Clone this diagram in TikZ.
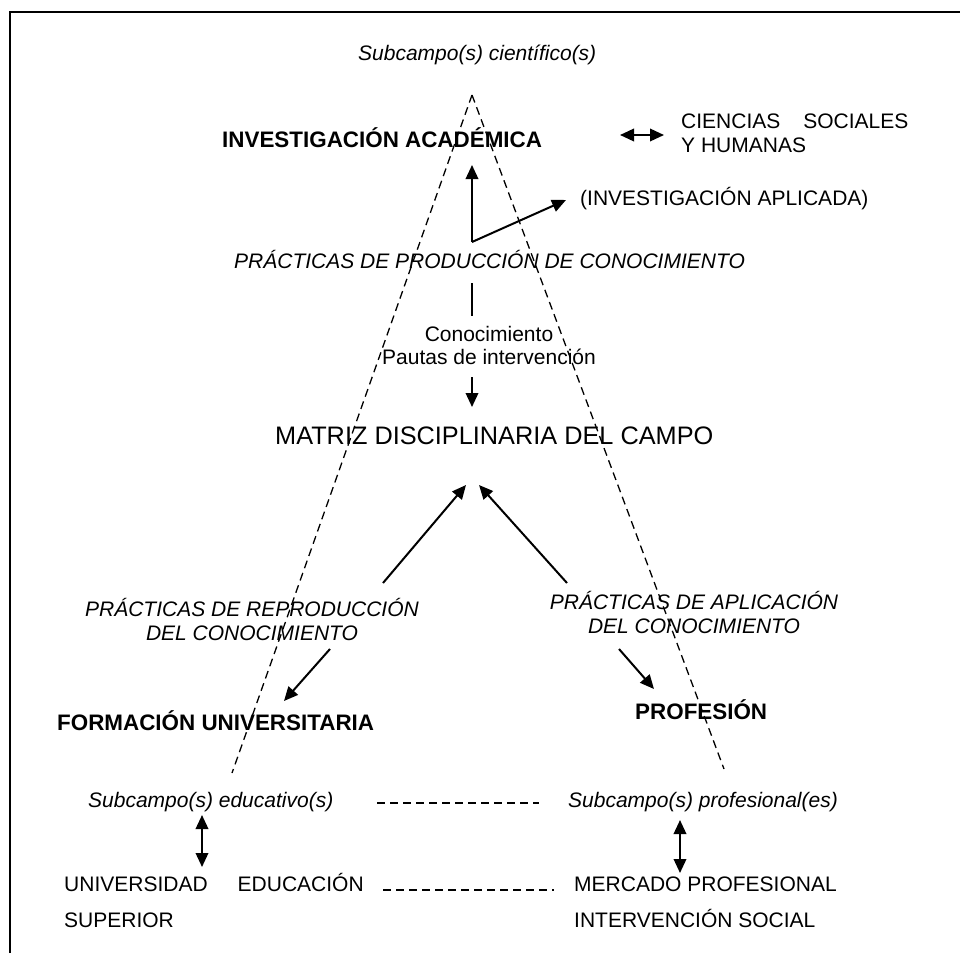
\documentclass[tikz,border=0pt]{standalone}
\usepackage{fontspec}
\setmainfont{Liberation Sans}
\usetikzlibrary{arrows.meta}
\tikzset{
  txt/.style={inner sep=0pt, font=\fontsize{21}{24}\selectfont},
  itxt/.style={inner sep=0pt, font=\fontsize{21}{24}\selectfont\itshape},
  btxt/.style={inner sep=0pt, font=\fontsize{22.4}{26}\selectfont\bfseries},
  big/.style={inner sep=0pt, font=\fontsize{25.3}{28}\selectfont},
  arr/.style={line width=2pt, -{Triangle[length=14pt,width=12.5pt]}},
  darr/.style={line width=2pt, {Triangle[length=14pt,width=12.5pt]}-{Triangle[length=14pt,width=12.5pt]}},
  plain/.style={line width=2pt},
  dsh/.style={line width=1.3pt, dash pattern=on 8pt off 5pt},
  frame/.style={line width=2pt}
}
\begin{document}
\begin{tikzpicture}[x=1pt,y=-1pt]
\useasboundingbox (0,0) rectangle (960,953);
% frame
\coordinate (fb) at (9.5,953);
\coordinate (ftl) at (9.5,12);
\coordinate (ftr) at (960,12);
\draw[frame] (fb) -- (ftl) -- (ftr);
% triangle
\coordinate (apex) at (472,95);
\coordinate (tl) at (232,773);
\coordinate (tr) at (724,769);
\draw[dsh] (apex) -- (tl);
\draw[dsh] (apex) -- (tr);
% texts
\node[itxt, anchor=base west] (sci) at (358,60) {Subcampo(s) científico(s)};
\node[btxt, anchor=base west] (inv) at (222,147) {INVESTIGACIÓN ACADÉMICA};
\node[txt, anchor=base west] (cien1) at (681,128) {CIENCIAS\hspace{23pt}SOCIALES};
\node[txt, anchor=base west] (cien2) at (681,152) {Y HUMANAS};
\node[txt, anchor=base west] (apl) at (580,205) {(INVESTIGACIÓN APLICADA)};
\node[itxt, anchor=base west] (prod) at (234,268) {PRÁCTICAS DE PRODUCCIÓN DE CONOCIMIENTO};
\node[txt, anchor=base] (con1) at (489,341) {Conocimiento};
\node[txt, anchor=base] (con2) at (489,364) {Pautas de intervención};
\node[big, anchor=base west] (matriz) at (275,444) {MATRIZ DISCIPLINARIA DEL CAMPO};
\node[itxt, anchor=base] (rep1) at (252,616) {PRÁCTICAS DE REPRODUCCIÓN};
\node[itxt, anchor=base] (rep2) at (252,640) {DEL CONOCIMIENTO};
\node[itxt, anchor=base] (ap1) at (694,609) {PRÁCTICAS DE APLICACIÓN};
\node[itxt, anchor=base] (ap2) at (694,633) {DEL CONOCIMIENTO};
\node[btxt, anchor=base west] (form) at (57,730) {FORMACIÓN UNIVERSITARIA};
\node[btxt, anchor=base west] (prof) at (635,719) {PROFESIÓN};
\node[itxt, anchor=base west] (edu) at (88,807) {Subcampo(s) educativo(s)};
\node[itxt, anchor=base west] (subp) at (568,807) {Subcampo(s) profesional(es)};
\node[txt, anchor=base west] (univ) at (64,891) {UNIVERSIDAD\hspace{30pt}EDUCACIÓN};
\node[txt, anchor=base west] (sup) at (64,927) {SUPERIOR};
\node[txt, anchor=base west] (merc) at (574,891) {MERCADO PROFESIONAL};
\node[txt, anchor=base west] (interv) at (574,927) {INTERVENCIÓN SOCIAL};
% connector coordinates
\coordinate (cs1) at (620,135);
\coordinate (cs2) at (664,135);
\coordinate (pbase) at (472,242);
\coordinate (ptop) at (472,165);
\coordinate (papl) at (566,200);
\coordinate (seg1) at (472,283);
\coordinate (seg2) at (472,316);
\coordinate (kd1) at (472,377);
\coordinate (kd2) at (472,407);
\coordinate (ml) at (466,485);
\coordinate (mr) at (479,485);
\coordinate (rl) at (383,583);
\coordinate (rr) at (567,583);
\coordinate (fl1) at (330,649);
\coordinate (fl2) at (284,701);
\coordinate (pr1) at (619,649);
\coordinate (pr2) at (654,689);
\coordinate (ed1) at (202,815);
\coordinate (ed2) at (202,867);
\coordinate (pf1) at (680,820);
\coordinate (pf2) at (680,873);
\coordinate (dl1) at (377,803);
\coordinate (dl2) at (539,803);
\coordinate (dm1) at (383,890);
\coordinate (dm2) at (554,890);
% connectors
\draw[darr] (cs1) -- (cs2);
\draw[arr] (pbase) -- (ptop);
\draw[arr] (pbase) -- (papl);
\draw[plain] (seg1) -- (seg2);
\draw[arr] (kd1) -- (kd2);
\draw[arr] (rl) -- (ml);
\draw[arr] (rr) -- (mr);
\draw[arr] (fl1) -- (fl2);
\draw[arr] (pr1) -- (pr2);
\draw[darr] (ed1) -- (ed2);
\draw[darr] (pf1) -- (pf2);
\draw[dsh] (dl1) -- (dl2);
\draw[dsh] (dm1) -- (dm2);
\end{tikzpicture}
\end{document}
